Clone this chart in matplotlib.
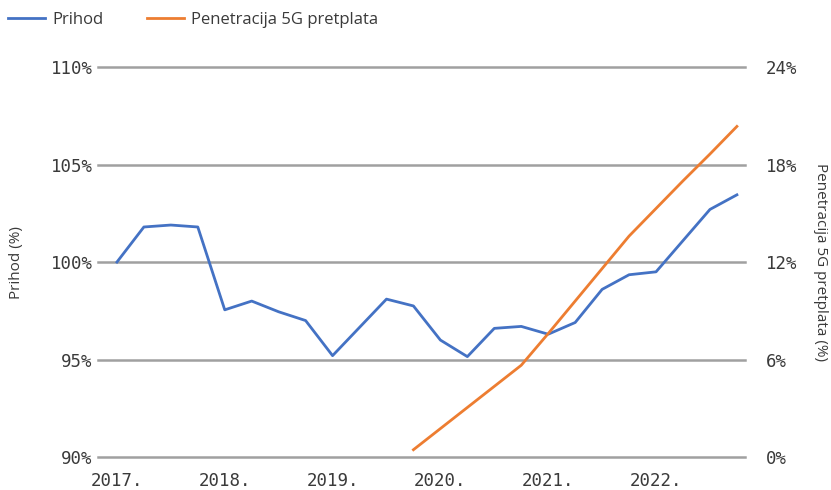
import matplotlib.pyplot as plt
from matplotlib.ticker import FixedLocator

# quarterly data, 2017 Q1 .. 2022 Q4
quarters = list(range(24))
year_labels = ["2017.", "2018.", "2019.", "2020.", "2021.", "2022."]
year_pos = [0, 4, 8, 12, 16, 20]

prihod = [100.0, 101.8, 101.9, 101.8, 97.55, 98.0, 97.45, 97.0,
          95.2, 96.65, 98.1, 97.75, 96.0, 95.15, 96.6, 96.7,
          96.3, 96.9, 98.6, 99.35, 99.5, 101.1, 102.7, 103.45]

# 5G penetration starts in 2019 Q4
pen_q = [11, 12, 13, 14, 15, 16, 17, 18, 19, 20, 21, 22, 23]
penetracija = [0.45, 1.75, 3.05, 4.35, 5.65, 7.6, 9.6, 11.6, 13.6,
               15.3, 17.0, 18.65, 20.35]

blue = "#4472C4"
orange = "#ED7D31"
grey = "#3a3a3a"
tick_font = "DejaVu Sans Mono"
label_font = "Open Sans"

fig = plt.figure(figsize=(8.31, 4.90), dpi=100)
ax = fig.add_axes([0.118, 0.0673, 0.7785, 0.7957])
ax2 = ax.twinx()

ax.plot(quarters, prihod, color=blue, lw=2, label="Prihod", zorder=3)
ax2.plot(pen_q, penetracija, color=orange, lw=2, label="Penetracija 5G pretplata", zorder=3)

ax.set_xlim(-0.7, 23.3)
ax.set_ylim(90, 110)
ax2.set_ylim(0, 24)
ax.yaxis.set_major_locator(FixedLocator([90, 95, 100, 105, 110]))
ax2.yaxis.set_major_locator(FixedLocator([0, 6, 12, 18, 24]))
ax.set_yticklabels([f"{v}%" for v in [90, 95, 100, 105, 110]])
ax2.set_yticklabels([f"{v}%" for v in [0, 6, 12, 18, 24]])
ax.set_xticks(year_pos)
ax.set_xticklabels(year_labels)

ax.grid(axis="y", color="#a0a0a0", lw=1.8)
for gl in ax.get_ygridlines():
    gl.set_clip_on(False)
ax.set_axisbelow(True)
for a in (ax, ax2):
    for s in a.spines.values():
        s.set_visible(False)
    a.tick_params(length=0, colors=grey, labelsize=12.5)
    for t in a.get_xticklabels() + a.get_yticklabels():
        t.set_fontfamily(tick_font)
ax.tick_params(axis="y", pad=4)
ax.tick_params(axis="x", pad=11)
ax2.tick_params(axis="y", pad=15)

ax.set_ylabel("Prihod (%)", color=grey, fontsize=11, family=label_font)
ax2.set_ylabel("Penetracija 5G pretplata (%)", color=grey, fontsize=11,
               family=label_font, rotation=270)
ax.yaxis.set_label_coords(-0.115, 0.5)
ax2.yaxis.set_label_coords(1.128, 0.5)

h1, l1 = ax.get_legend_handles_labels()
h2, l2 = ax2.get_legend_handles_labels()
fig.legend(h1 + h2, l1 + l2, loc="upper left", bbox_to_anchor=(-0.008, 1.007), ncol=2,
           frameon=False, prop={"family": label_font, "size": 12},
           labelcolor=grey, handlelength=2.2, columnspacing=2.6, handletextpad=0.45)

fig.savefig("out.png", dpi=100)
